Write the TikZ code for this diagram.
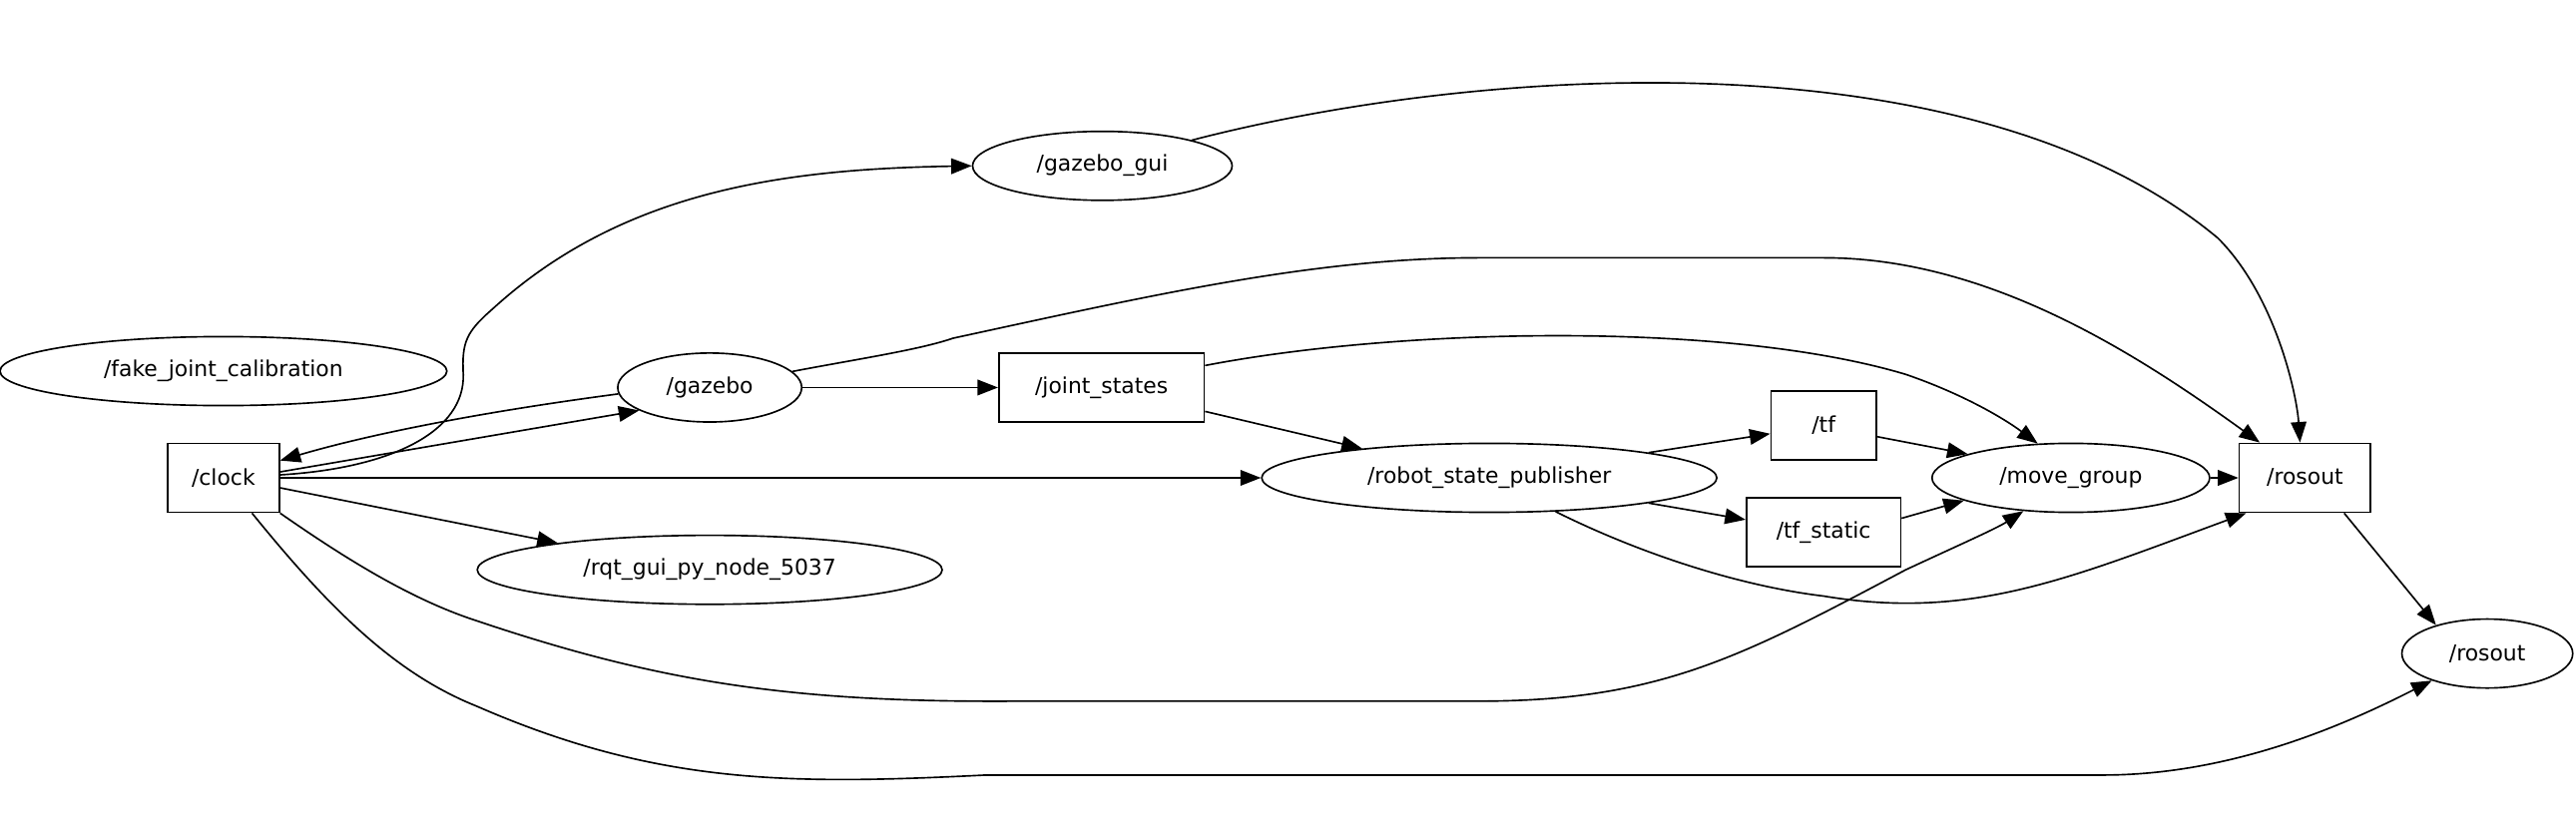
\documentclass[tikz,border=0pt]{standalone}
\usepackage{fontspec}
\setmainfont{DejaVu Sans}
\usetikzlibrary{shapes.geometric,arrows.meta}
\begin{document}
\begin{tikzpicture}[x=1pt,y=-1pt,
  every node/.style={font=\fontsize{13.3}{16}\selectfont, inner sep=0pt},
  topic/.style={draw, rectangle, line width=1pt, minimum height=42pt},
  rnode/.style={draw, ellipse, line width=1pt, minimum height=42pt},
  edge/.style={line width=1pt, -{Triangle[length=12.5pt,width=9.5pt]}}
]
\useasboundingbox[fill=white] (0,0) rectangle (1568,502);
% nodes
\node[rnode, minimum width=272pt] (fjc) at (136,226) {/fake\_joint\_calibration};
\node[rnode, minimum width=112pt] (gazebo) at (432,236) {/gazebo};
\node[rnode, minimum width=158pt] (ggui) at (671,101) {/gazebo\_gui};
\node[topic, minimum width=68pt] (clock) at (136,291) {/clock};
\node[rnode, minimum width=283pt] (rqt) at (432,347) {/rqt\_gui\_py\_node\_5037};
\node[topic, minimum width=125pt] (js) at (670.5,236) {/joint\_states};
\node[rnode, minimum width=277pt] (rsp) at (906.5,291) {/robot\_state\_publisher};
\node[topic, minimum width=64pt] (tf) at (1110,259) {/tf};
\node[topic, minimum width=94pt] (tfs) at (1110,324) {/tf\_static};
\node[rnode, minimum width=169pt] (mg) at (1260.5,291) {/move\_group};
\node[topic, minimum width=80pt] (rosout) at (1403,291) {/rosout};
\node[rnode, minimum width=104pt] (rosoutE) at (1514,398) {/rosout};
% edges
\draw[edge] (clock.3) .. controls (240,285) and (283,262) .. (282,228)
  .. controls (281,208) and (284,202) .. (300,188)
  .. controls (380,115) and (480,103) .. (ggui.west);
\draw[edge] (gazebo.184) .. controls (300,250) and (230,263) .. (clock.17);
\draw[edge] (clock.6) -- (gazebo.198);
\draw[edge] (clock.east) -- (rsp.west);
\draw[edge] (clock.-10) -- (rqt.170);
\draw[edge] (clock.south east) .. controls (210,340) and (250,365) .. (290,378)
  .. controls (400,415) and (480,428) .. (620,427) -- (900,427)
  .. controls (1010,427) and (1060,400) .. (1160,347)
  .. controls (1190,333) and (1215,322) .. (mg.215);
\draw[edge] (clock.-51) .. controls (200,370) and (240,410) .. (290,430)
  .. controls (400,478) and (480,478) .. (600,472) -- (1280,472)
  .. controls (1360,472) and (1430,440) .. (rosoutE.206);
\draw[edge] (gazebo.east) -- (js.west);
\draw[edge] (gazebo.11) .. controls (520,219) and (560,213) .. (580,206)
  .. controls (700,180) and (800,157) .. (900,157) -- (1110,157)
  .. controls (1210,157) and (1300,215) .. (rosout.142);
\draw[edge] (ggui.16) .. controls (900,40) and (1200,20) .. (1350,145)
  .. controls (1385,180) and (1398,240) .. (rosout.98);
\draw[edge] (js.12) .. controls (850,200) and (1050,195) .. (1160,228)
  .. controls (1195,240) and (1220,255) .. (mg.134);
\draw[edge] (js.-13) -- (rsp.167);
\draw[edge] (rsp.9) -- (tf.189);
\draw[edge] (rsp.-9) -- (tfs.171);
\draw[edge] (rsp.-27) .. controls (1000,338) and (1060,357) .. (1110,363)
  .. controls (1200,378) and (1260,352) .. (rosout.211);
\draw[edge] (tf.-12) -- (mg.167);
\draw[edge] (tfs.10) -- (mg.192);
\draw[edge] (mg.east) -- (rosout.west);
\draw[edge] (rosout.-42) -- (rosoutE.151);
\end{tikzpicture}
\end{document}
